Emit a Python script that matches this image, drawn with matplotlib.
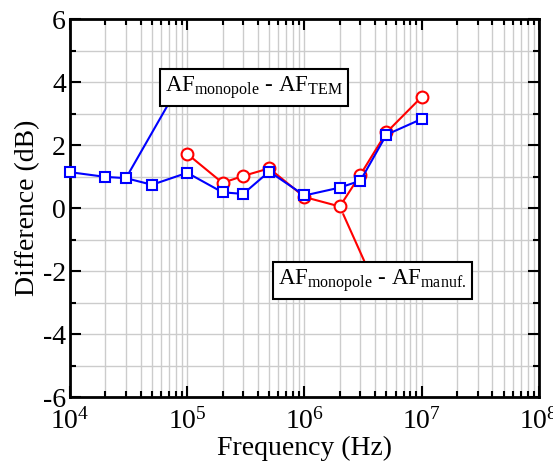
import matplotlib
matplotlib.use("Agg")
import matplotlib.pyplot as plt
from matplotlib.ticker import MultipleLocator, LogLocator, NullFormatter

plt.rcParams['font.family'] = ['Liberation Serif', 'DejaVu Serif']
plt.rcParams['mathtext.fontset'] = 'custom'
plt.rcParams['mathtext.rm'] = 'Liberation Serif'
plt.rcParams['mathtext.it'] = 'Liberation Serif:italic'
plt.rcParams['axes.unicode_minus'] = False

freq_tem = [1e4, 2e4, 3e4, 5e4, 1e5, 2e5, 3e5, 5e5, 1e6, 2e6, 3e6, 5e6, 1e7]
diff_tem = [1.14, 0.99, 0.95, 0.74, 1.12, 0.50, 0.45, 1.16, 0.40, 0.65, 0.87, 2.33, 2.83]

freq_man = [1e5, 2e5, 3e5, 5e5, 1e6, 2e6, 3e6, 5e6, 1e7]
diff_man = [1.72, 0.80, 1.02, 1.26, 0.35, 0.05, 1.06, 2.40, 3.53]

label_tem = r"AF$_{\mathrm{monopole}}$ - AF$_{\mathrm{TEM}}$"
label_man = r"AF$_{\mathrm{monopole}}$ - AF$_{\mathrm{manuf.}}$"

fig = plt.figure(figsize=(5.53, 4.66), dpi=100)
ax = fig.add_axes([0.1266, 0.148, 0.848, 0.811])

ax.plot(freq_man, diff_man, color='red', lw=1.5, marker='o', ms=8.5,
        mfc='white', mec='red', mew=1.5, zorder=3, clip_on=False)
ax.plot(freq_tem, diff_tem, color='blue', lw=1.5, marker='s', ms=7,
        mfc='white', mec='blue', mew=1.5, zorder=4, clip_on=False)

ax.set_xscale('log')
ax.set_xlim(1e4, 1e8)
ax.set_ylim(-6, 6)
ax.yaxis.set_major_locator(MultipleLocator(2))
ax.yaxis.set_minor_locator(MultipleLocator(1))
ax.xaxis.set_major_locator(LogLocator(base=10, numticks=10))
ax.xaxis.set_minor_locator(LogLocator(base=10, subs=range(2, 10), numticks=20))
ax.xaxis.set_minor_formatter(NullFormatter())

ax.grid(True, which='both', color='#cccccc', lw=1.0, zorder=0)
ax.set_axisbelow(True)
for s in ax.spines.values():
    s.set_linewidth(2)
ax.tick_params(which='both', direction='in', top=True, right=True, width=1.5)
ax.tick_params(which='major', length=8, labelsize=20, pad=3)
ax.tick_params(axis='x', which='major', pad=8)
ax.tick_params(which='minor', length=4.5)

ax.set_xlabel('Frequency (Hz)', fontsize=20, labelpad=1)
ax.set_ylabel('Difference (dB)', fontsize=20, labelpad=2)

ax.annotate(label_tem, xy=(freq_tem[2], diff_tem[2]), xytext=(10**5.569, 3.84),
            textcoords='data', ha='center', va='center', fontsize=16.5, zorder=6,
            bbox=dict(boxstyle='square,pad=0.22', fc='white', ec='black', lw=1.5),
            arrowprops=dict(arrowstyle='-', color='blue', lw=1.5,
                            relpos=(0.03, 0), shrinkA=0, shrinkB=5))
ax.annotate(label_man, xy=(freq_man[5], diff_man[5]), xytext=(10**6.58, -2.29),
            textcoords='data', ha='center', va='center', fontsize=16.5, zorder=6,
            bbox=dict(boxstyle='square,pad=0.22', fc='white', ec='black', lw=1.5),
            arrowprops=dict(arrowstyle='-', color='red', lw=1.5,
                            relpos=(0.47, 1), shrinkA=0, shrinkB=6))

fig.savefig('out.png', dpi=100)
